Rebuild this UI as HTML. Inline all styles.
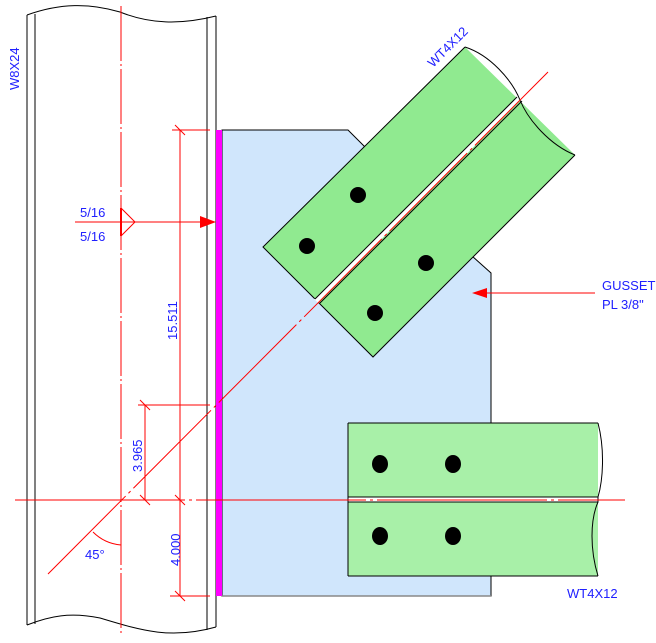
<!DOCTYPE html>
<html><head><style>body{margin:0;background:#fff}svg{display:block}text{font-family:"Liberation Sans",sans-serif;fill:#2020ff;font-size:13px}</style></head><body>
<svg width="656" height="643" viewBox="0 0 656 643">
<path d="M27,15 C60,3 90,3 120,12 C150,24 180,25 216,16" fill="none" stroke="#000"/>
<path d="M27,625 C50,616 70,612 100,618 C140,630 170,640 216,627" fill="none" stroke="#000"/>
<line x1="27" y1="15" x2="27" y2="625" stroke="#000"/>
<line x1="35" y1="14" x2="35" y2="624" stroke="#000"/>
<line x1="207" y1="17" x2="207" y2="630" stroke="#000"/>
<line x1="216" y1="16" x2="216" y2="627" stroke="#000"/>
<line x1="121" y1="6" x2="121" y2="636" stroke="red" stroke-dasharray="55,3,2,3"/>
<polygon points="222,130 348,130 364,146 472,256 491,273 491,596 222,596" fill="#d0e6fc" stroke="#000"/>
<line x1="222" y1="596" x2="491" y2="596" stroke="#888" stroke-width="1.5"/>
<rect x="216" y="130" width="6" height="466" fill="#ff00ff"/>
<polygon points="465,47 575,155 373,357 263,247" fill="#90ea90"/>
<path d="M465,47 L263,247 L373,357 L575,155" fill="none" stroke="#000"/>
<path d="M465,47 C490,55 512,80 520,100 C528,120 550,145 575,155" fill="none" stroke="#000"/>
<line x1="316" y1="301" x2="518" y2="99" stroke="#fff" stroke-width="5"/>
<line x1="315" y1="299" x2="517" y2="97" stroke="#000"/>
<line x1="320" y1="303" x2="522" y2="101" stroke="#000"/>
<g fill="#000"><circle cx="358" cy="195" r="8"/><circle cx="307" cy="246" r="8"/><circle cx="426" cy="263" r="8"/><circle cx="375" cy="313" r="8"/></g>
<rect x="348" y="423" width="250" height="153" fill="#a8f0a8"/>
<path d="M598,423 C605,450 603,480 598,497 M598,502 C590,520 590,550 598,576" fill="none" stroke="#000"/>
<path d="M348,423 H598 M348,576 H598 M348,423 V576" fill="none" stroke="#000"/>
<rect x="348" y="497" width="250" height="5" fill="#fff" stroke="#000" stroke-width="1"/>
<g fill="#000"><ellipse cx="380" cy="464" rx="8" ry="9"/><ellipse cx="453" cy="464" rx="8" ry="9"/><ellipse cx="380" cy="536" rx="8" ry="9"/><ellipse cx="453" cy="536" rx="8" ry="9"/></g>
<g stroke="red" fill="none">
<line x1="15" y1="500" x2="625" y2="500" stroke-dasharray="170,4,3,4"/>
<line x1="48" y1="574" x2="548" y2="72" stroke-dasharray="110,4,3,4"/>
<line x1="180" y1="130" x2="180" y2="596"/>
<line x1="172" y1="130" x2="210" y2="130"/><line x1="175" y1="125" x2="185" y2="135"/>
<line x1="175" y1="495" x2="185" y2="505"/>
<line x1="170" y1="596" x2="210" y2="596"/><line x1="175" y1="591" x2="185" y2="601"/>
<line x1="145" y1="405" x2="145" y2="500"/>
<line x1="138" y1="405" x2="210" y2="405"/><line x1="140" y1="400" x2="150" y2="410"/>
<line x1="140" y1="495" x2="150" y2="505"/>
<path d="M93,532 A45,45 0 0 0 121,545"/>
<line x1="75" y1="222" x2="205" y2="222"/>
<path d="M121,208 L135,222 L121,236"/>
<line x1="595" y1="293" x2="485" y2="293"/>
</g>
<polygon points="216,222 200,216 200,228" fill="red"/>
<polygon points="472,293 487,288 487,298" fill="red"/>
<line x1="121" y1="208" x2="121" y2="236" stroke="red" stroke-width="2"/>
<text x="80" y="217">5/16</text><text x="80" y="241">5/16</text>
<text x="602" y="290">GUSSET</text><text x="602" y="309">PL 3/8"</text>
<text x="567" y="598">WT4X12</text>
<text x="85" y="559">45°</text>
<text transform="translate(19,90) rotate(-90)" font-size="11">W8X24</text>
<text transform="translate(177,340) rotate(-90)">15.511</text>
<text transform="translate(142,472) rotate(-90)">3.965</text>
<text transform="translate(180,566) rotate(-90)">4.000</text>
<text transform="translate(433,68) rotate(-45)" font-size="11">WT4X12</text>
</svg>
</body></html>
